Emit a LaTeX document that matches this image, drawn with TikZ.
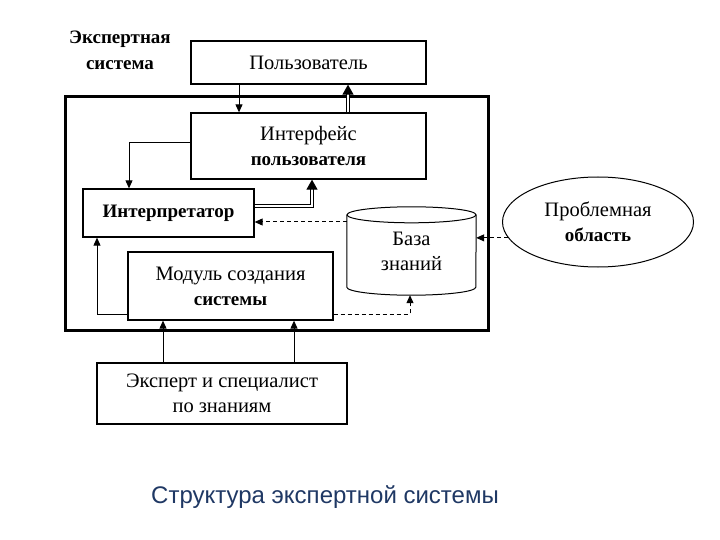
\documentclass[tikz,border=0pt]{standalone}
\usepackage{fontspec}
\setmainfont{Liberation Serif}
\newfontfamily\capfont{Liberation Sans}
\usetikzlibrary{arrows.meta,shapes.geometric,calc}
\definecolor{capblue}{RGB}{31,56,100}
\newcommand{\bftxt}[1]{{\fontsize{19}{25}\selectfont\bfseries #1}}
\begin{document}
\begin{tikzpicture}[x=1pt,y=-1pt,
  box/.style={draw, line width=1.3pt, rectangle, inner sep=0pt, align=center,
              font=\fontsize{20.5}{25}\selectfont},
  plain/.style={inner sep=0pt, align=center, font=\fontsize{20.5}{25}\selectfont},
  conn/.style={line width=1pt, -{Triangle[length=8pt,width=7pt]}},
  dconn/.style={conn, dash pattern=on 4pt off 3pt},
  dbl/.style={double, double distance=2pt, line width=1pt, -{Triangle[length=10pt,width=11pt]}},
]
\useasboundingbox (0,0) rectangle (720,540);
\fill[white] (0,0) rectangle (720,540);

% outer system frame
\draw[line width=3pt] (65,97) rectangle (488,330);

\node[plain, font=\fontsize{19}{26}\selectfont\bfseries] (lbl) at (120,50) {Экспертная\\система};
\node[box, minimum width=235pt, minimum height=43pt] (user) at (308.5,62.5) {Пользователь};
\node[box, minimum width=235pt, minimum height=66pt] (iface) at (308.5,146) {Интерфейс\\\bftxt{пользователя}};
\node[box, minimum width=171pt, minimum height=48pt, font=\fontsize{19}{25}\selectfont\bfseries] (interp) at (168.5,213) {Интерпретатор};
\node[box, minimum width=205pt, minimum height=68pt] (module) at (230.5,286) {Модуль создания\\\bftxt{системы}};
\node[plain, minimum width=129pt, minimum height=88pt] (kb) at (411.5,251) {База\\знаний};
\node[draw, ellipse, line width=1pt, minimum width=191pt, minimum height=90pt, inner sep=0pt,
      align=center, font=\fontsize{20.5}{25}\selectfont] (prob) at (598,222) {Проблемная\\\bftxt{область}};
\node[box, minimum width=250pt, minimum height=61pt] (expert) at (222,393.5) {Эксперт и специалист\\по знаниям};
\node[inner sep=0pt, text=capblue, font=\capfont\fontsize{24}{28}\selectfont] (cap) at (325,497) {Структура экспертной системы};

% knowledge base cylinder
\draw[line width=1pt] ($(kb.north west)+(0,8)$) -- ($(kb.south west)+(0,-8)$)
  arc[start angle=180, end angle=360, x radius=64.5pt, y radius=8pt]
  -- ($(kb.north east)+(0,8)$);
\draw[line width=1pt] ($(kb.north)+(0,8)$) ellipse[x radius=64.5pt, y radius=8pt];

% helper coordinates
\coordinate (xa) at (239,0);
\coordinate (xb) at (348,0);
\coordinate (xc) at (129,0);
\coordinate (yc) at (0,143);
\coordinate (xd) at (312,0);
\coordinate (yd) at (0,206);
\coordinate (ye) at (0,222);
\coordinate (xf) at (97,0);
\coordinate (yf) at (0,314);
\coordinate (xg) at (410,0);
\coordinate (xh) at (163,0);
\coordinate (xi) at (294,0);

% connectors
\draw[conn] (user.south -| xa) -- (iface.north -| xa);
\draw[dbl] (iface.north -| xb) -- (user.south -| xb);
\draw[conn] (iface.west |- yc) -| (interp.north -| xc);
\draw[dbl] (interp.east |- yd) -| (iface.south -| xd);
\draw[dconn] (kb.west |- ye) -- (interp.east |- ye);
\draw[conn] (module.west |- yf) -| (interp.south -| xf);
\draw[dconn] (module.east |- yf) -| (kb.south -| xg);
\draw[dconn] (prob.190) -- (kb.east |- prob.190);
\draw[conn] (expert.north -| xh) -- (module.south -| xh);
\draw[conn] (expert.north -| xi) -- (module.south -| xi);
\end{tikzpicture}
\end{document}
